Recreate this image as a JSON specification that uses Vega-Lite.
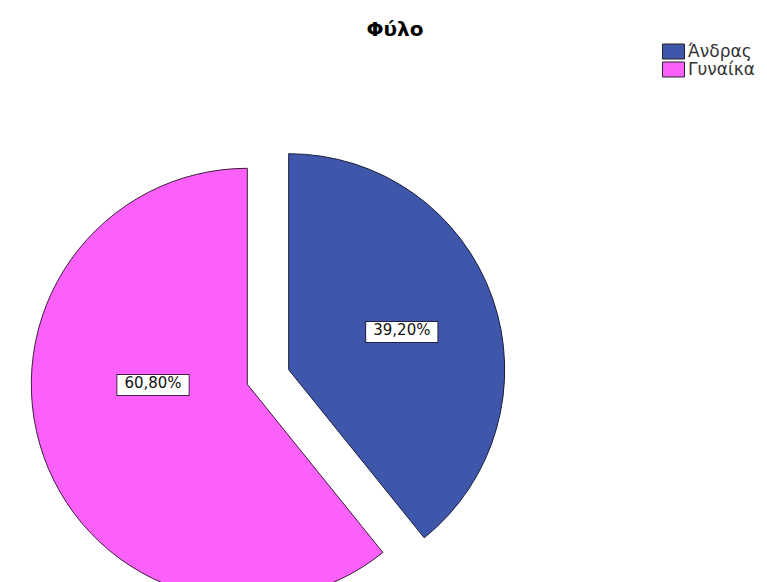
{
  "$schema": "https://vega.github.io/schema/vega-lite/v6.json",
  "width": 536,
  "height": 410,
  "autosize": {"type": "none"},
  "padding": {"left": 0, "top": 172, "right": 231, "bottom": 0},
  "background": "white",
  "title": {
    "text": "Φύλο",
    "font": "DejaVu Sans",
    "fontSize": 20,
    "fontWeight": "bold",
    "color": "#000000",
    "anchor": "middle",
    "dx": 127,
    "offset": 3
  },
  "data": {
    "values": [
      {"sex": "Άνδρας", "pct": 39.2, "label": "39,20%"},
      {"sex": "Γυναίκα", "pct": 60.8, "label": "60,80%"}
    ]
  },
  "transform": [
    {"stack": "pct", "groupby": [], "as": ["v0", "v1"]},
    {"calculate": "(datum.v0 + datum.v1) / 2", "as": "mid"}
  ],
  "layer": [
    {
      "transform": [{"filter": "datum.sex === 'Άνδρας'"}],
      "mark": {"type": "arc", "radius": 216, "xOffset": 20.7, "yOffset": -7.3, "stroke": "#1c1c3c", "strokeWidth": 1},
      "encoding": {
        "theta": {"field": "v0", "type": "quantitative", "scale": {"domain": [0, 100]}},
        "theta2": {"field": "v1"},
        "color": {"field": "sex", "type": "nominal", "scale": {"domain": ["Άνδρας", "Γυναίκα"], "range": ["#3E57AB", "#FB60FB"]}, "legend": {"title": null}}
      }
    },
    {
      "transform": [{"filter": "datum.sex === 'Γυναίκα'"}],
      "mark": {"type": "arc", "radius": 216, "xOffset": -20.7, "yOffset": 7.3, "stroke": "#3c1c3c", "strokeWidth": 1},
      "encoding": {
        "theta": {"field": "v0", "type": "quantitative", "scale": {"domain": [0, 100]}},
        "theta2": {"field": "v1"},
        "color": {"field": "sex", "type": "nominal"}
      }
    },
    {
      "transform": [{"filter": "datum.sex === 'Άνδρας'"}],
      "mark": {"type": "text", "text": "▬", "font": "DejaVu Sans", "fontSize": 54, "radius": 120, "xOffset": 20.7, "yOffset": -7.3, "dx": -15, "fill": "#222244", "stroke": "#222244", "strokeWidth": 2, "align": "center", "baseline": "middle"},
      "encoding": {"theta": {"field": "mid", "type": "quantitative"}}
    },
    {
      "transform": [{"filter": "datum.sex === 'Άνδρας'"}],
      "mark": {"type": "text", "text": "▬", "font": "DejaVu Sans", "fontSize": 54, "radius": 120, "xOffset": 20.7, "yOffset": -7.3, "dx": 15, "fill": "#222244", "stroke": "#222244", "strokeWidth": 2, "align": "center", "baseline": "middle"},
      "encoding": {"theta": {"field": "mid", "type": "quantitative"}}
    },
    {
      "transform": [{"filter": "datum.sex === 'Άνδρας'"}],
      "mark": {"type": "text", "text": "▬", "font": "DejaVu Sans", "fontSize": 54, "radius": 120, "xOffset": 20.7, "yOffset": -7.3, "dx": -15, "fill": "white", "align": "center", "baseline": "middle"},
      "encoding": {"theta": {"field": "mid", "type": "quantitative"}}
    },
    {
      "transform": [{"filter": "datum.sex === 'Άνδρας'"}],
      "mark": {"type": "text", "text": "▬", "font": "DejaVu Sans", "fontSize": 54, "radius": 120, "xOffset": 20.7, "yOffset": -7.3, "dx": 15, "fill": "white", "align": "center", "baseline": "middle"},
      "encoding": {"theta": {"field": "mid", "type": "quantitative"}}
    },
    {
      "transform": [{"filter": "datum.sex === 'Άνδρας'"}],
      "mark": {"type": "text", "font": "DejaVu Sans", "fontSize": 15, "radius": 120, "xOffset": 20.7, "yOffset": -7.3, "color": "#111111", "align": "center", "baseline": "middle"},
      "encoding": {
        "theta": {"field": "mid", "type": "quantitative"},
        "text": {"field": "label"}
      }
    },
    {
      "transform": [{"filter": "datum.sex === 'Γυναίκα'"}],
      "mark": {"type": "text", "text": "▬", "font": "DejaVu Sans", "fontSize": 54, "radius": 100, "xOffset": -20.7, "yOffset": 7.3, "dy": -35, "dx": -15, "fill": "#442244", "stroke": "#442244", "strokeWidth": 2, "align": "center", "baseline": "middle"},
      "encoding": {"theta": {"field": "mid", "type": "quantitative"}}
    },
    {
      "transform": [{"filter": "datum.sex === 'Γυναίκα'"}],
      "mark": {"type": "text", "text": "▬", "font": "DejaVu Sans", "fontSize": 54, "radius": 100, "xOffset": -20.7, "yOffset": 7.3, "dy": -35, "dx": 15, "fill": "#442244", "stroke": "#442244", "strokeWidth": 2, "align": "center", "baseline": "middle"},
      "encoding": {"theta": {"field": "mid", "type": "quantitative"}}
    },
    {
      "transform": [{"filter": "datum.sex === 'Γυναίκα'"}],
      "mark": {"type": "text", "text": "▬", "font": "DejaVu Sans", "fontSize": 54, "radius": 100, "xOffset": -20.7, "yOffset": 7.3, "dy": -35, "dx": -15, "fill": "white", "align": "center", "baseline": "middle"},
      "encoding": {"theta": {"field": "mid", "type": "quantitative"}}
    },
    {
      "transform": [{"filter": "datum.sex === 'Γυναίκα'"}],
      "mark": {"type": "text", "text": "▬", "font": "DejaVu Sans", "fontSize": 54, "radius": 100, "xOffset": -20.7, "yOffset": 7.3, "dy": -35, "dx": 15, "fill": "white", "align": "center", "baseline": "middle"},
      "encoding": {"theta": {"field": "mid", "type": "quantitative"}}
    },
    {
      "transform": [{"filter": "datum.sex === 'Γυναίκα'"}],
      "mark": {"type": "text", "font": "DejaVu Sans", "fontSize": 15, "radius": 100, "xOffset": -20.7, "yOffset": 7.3, "dy": -35, "color": "#111111", "align": "center", "baseline": "middle"},
      "encoding": {
        "theta": {"field": "mid", "type": "quantitative"},
        "text": {"field": "label"}
      }
    }
  ],
  "config": {
    "view": {"stroke": null},
    "legend": {
      "orient": "none",
      "legendX": 665,
      "legendY": -129,
      "symbolType": "M-1.47,-1H1.47V1H-1.47Z",
      "symbolSize": 225,
      "symbolStrokeColor": "#222222",
      "symbolStrokeWidth": 1,
      "symbolOpacity": 1,
      "labelFont": "DejaVu Sans",
      "labelFontSize": 17,
      "labelColor": "#333333",
      "labelOffset": 6,
      "rowPadding": -5
    }
  }
}
